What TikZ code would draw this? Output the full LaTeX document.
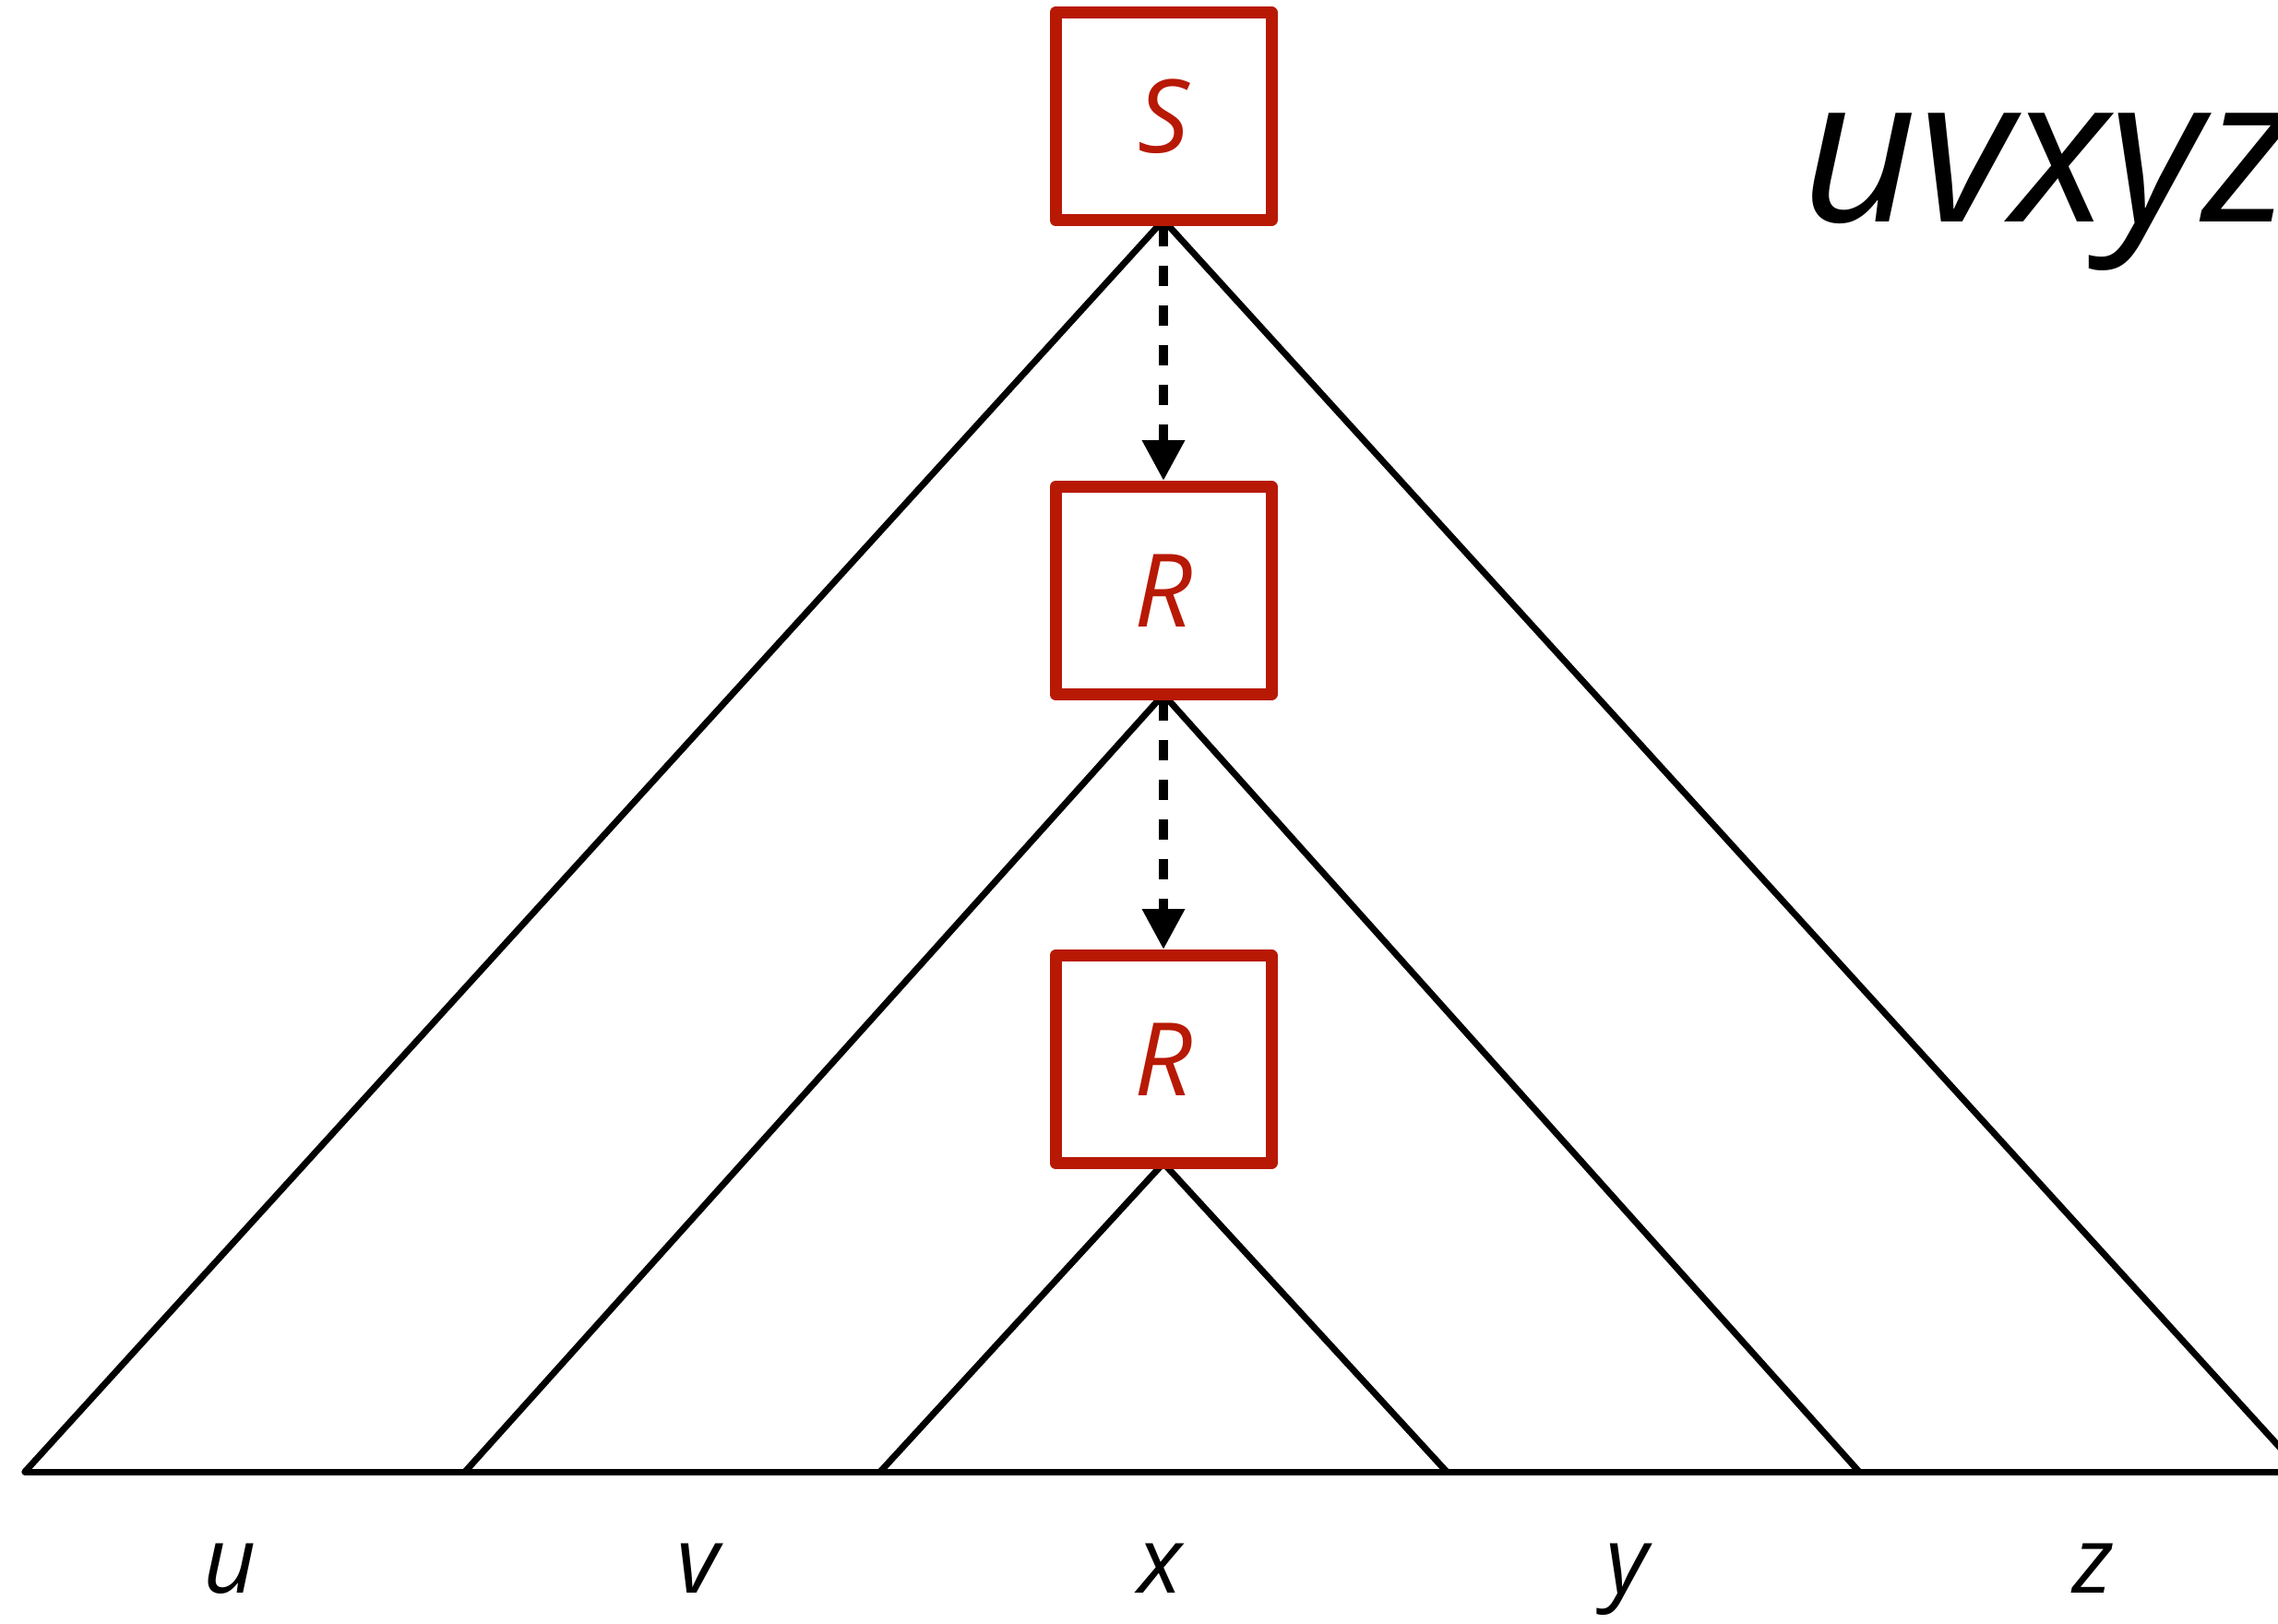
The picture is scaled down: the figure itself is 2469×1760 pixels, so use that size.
\documentclass[tikz,border=0pt]{standalone}
\usepackage{fontspec}
\setmainfont{Open Sans}
\usetikzlibrary{arrows.meta}
\definecolor{boxred}{RGB}{183,25,5}
\begin{document}
\begin{tikzpicture}[x=0.5pt,y=-0.5pt,
  box/.style={draw=boxred, line width=6.5pt, fill=white, line join=round,
    minimum width=117pt, minimum height=112.5pt, inner sep=0pt,
    font=\fontsize{55}{60}\selectfont\itshape, text=boxred},
  tree/.style={line width=3.5pt, line join=round, line cap=round},
  dasharrow/.style={line width=5pt, dash pattern=on 11pt off 10.5pt,
    -{Triangle[length=22pt,width=22pt]}},
  lbl/.style={font=\fontsize{50}{55}\selectfont\itshape, anchor=base, inner sep=0pt}]
\useasboundingbox (0,0) rectangle (2469,1760);
\clip (0,0) rectangle (2469,1760);
% apexes and bottom points
\coordinate (aS) at (1261,238.5);
\coordinate (aR1) at (1261,752.5);
\coordinate (aR2) at (1261,1260.5);
\coordinate (b0) at (27,1595);
\coordinate (b1) at (504,1595);
\coordinate (b2) at (954,1595);
\coordinate (b3) at (1568,1595);
\coordinate (b4) at (2015,1595);
\coordinate (b5) at (2495,1595);
% tree lines
\draw[tree] (b0) -- (aS) -- (b5);
\draw[tree] (b1) -- (aR1) -- (b4);
\draw[tree] (b2) -- (aR2) -- (b3);
\draw[tree] (b0) -- (b5);
% boxes
\node[box] (S) at (1261,126) {S};
\node[box] (R1) at (1261,640) {R};
\node[box] (R2) at (1261,1148) {R};
% arrows
\draw[dasharrow] (S.south) -- (R1.north);
\draw[dasharrow] (R1.south) -- (R2.north);
% labels
\node[lbl] (lu) at (249,1726) {u};
\node[lbl] (lv) at (757,1726) {v};
\node[lbl] (lx) at (1257,1726) {x};
\node[lbl] (ly) at (1764,1726) {y};
\node[lbl] (lz) at (2269,1726) {z};
\node[font=\fontsize{110}{120}\selectfont\itshape, anchor=base west, inner sep=0pt] (w) at (1952,241) {uvxyz};
\end{tikzpicture}
\end{document}
